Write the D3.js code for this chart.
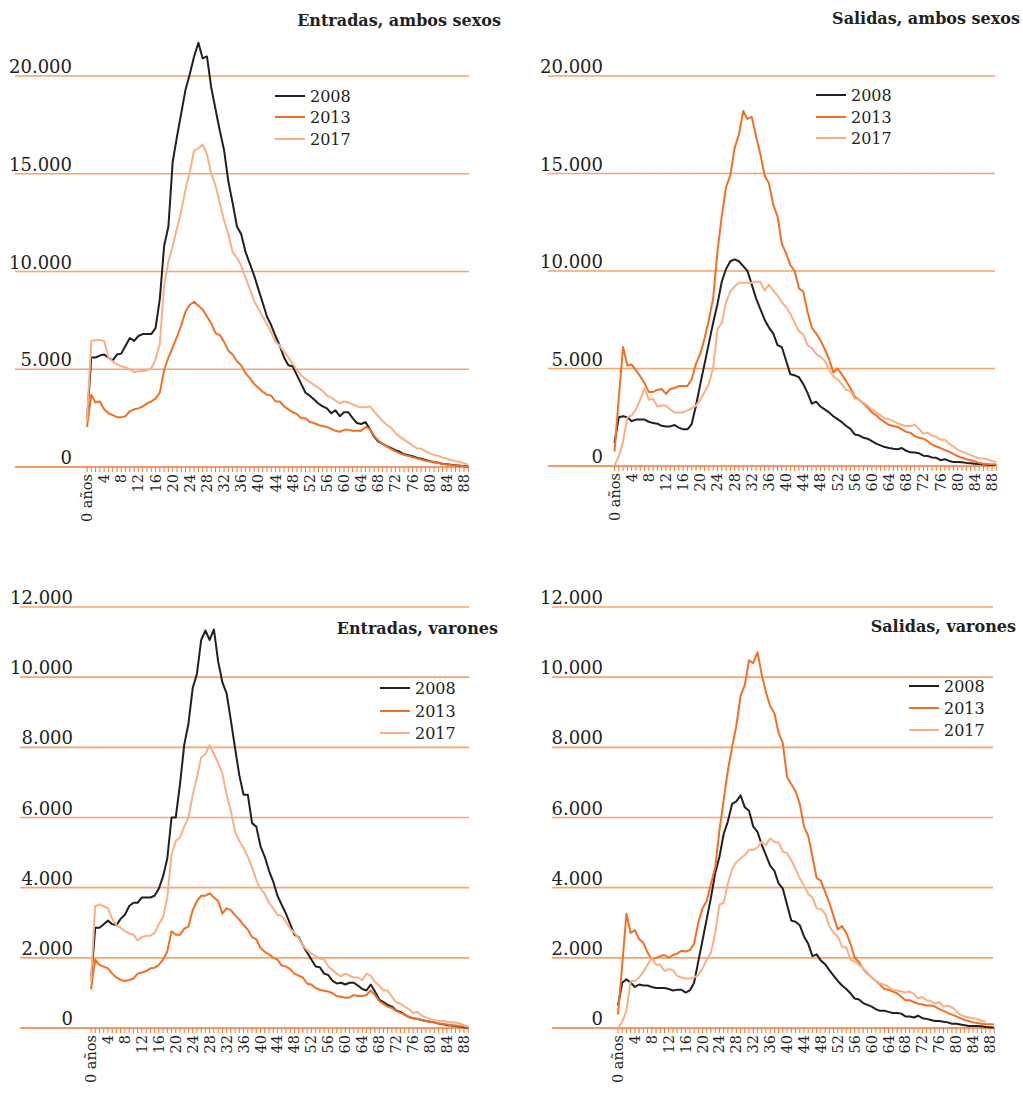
<!DOCTYPE html>
<html>
<head>
<meta charset="utf-8">
<script src="https://cdn.jsdelivr.net/npm/d3@7"></script>
<style>
  body { margin: 0; background: #fff; }
  svg { display: block; }
</style>
</head>
<body>
<svg id="chart"></svg>
<script>
// ages 0..89
const ages = d3.range(0, 90);
const years = ["2008", "2013", "2017"];
const yTicksBoth = [0, 5000, 10000, 15000, 20000];
const yTicksMen = [0, 2000, 4000, 6000, 8000, 10000, 12000];

// Entradas, ambos sexos
const entAmbos2008 = [2400,5600,5600,5700,5750,5600,5450,5750,5800,6200,6600,6450,6700,6800,6800,6800,7100,8600,11300,12300,15600,16900,18100,19300,20100,21000,21700,20900,21000,19400,18300,17200,16200,14600,13500,12300,11900,11000,10400,9800,9100,8400,7700,7250,6700,6200,5600,5200,5150,4700,4250,3800,3650,3450,3250,3100,3000,2750,2900,2600,2800,2800,2500,2250,2200,2300,1950,1550,1300,1180,1070,970,860,780,650,600,550,480,420,360,300,260,220,170,140,110,90,70,50,30];
const entAmbos2013 = [2050,3700,3300,3350,2950,2750,2650,2550,2550,2600,2850,2950,3000,3100,3250,3350,3500,3800,4950,5600,6100,6650,7250,7950,8300,8450,8250,8050,7700,7350,6850,6750,6400,5950,5750,5400,5200,4800,4550,4250,4050,3850,3700,3650,3350,3350,3100,2950,2800,2700,2500,2500,2300,2250,2150,2100,2050,1950,1850,1800,1900,1900,1850,1850,1850,2050,1950,1600,1350,1180,1040,920,800,700,620,560,500,440,380,320,280,240,200,160,130,100,80,60,40,30];
const entAmbos2017 = [2400,6450,6500,6500,6450,5600,5400,5250,5150,5100,5000,4850,4900,4900,4950,5050,5500,6300,9300,10500,11300,12200,13100,14200,15100,16200,16300,16500,16000,15000,14400,13500,12600,11900,11000,10700,10300,9700,9100,8500,8100,7700,7300,6900,6400,6200,5900,5600,5300,4950,4700,4500,4350,4200,4050,3900,3650,3550,3400,3250,3350,3300,3200,3100,3050,3050,3100,2850,2600,2350,2150,2000,1750,1550,1400,1250,1100,950,950,800,700,620,560,480,420,350,300,260,200,120];

// Salidas, ambos sexos
const salAmbos2008 = [1180,2500,2550,2500,2300,2380,2380,2380,2270,2200,2170,2060,2030,2030,2100,1970,1880,1880,2150,3100,4200,5250,6300,7350,8300,9450,10100,10500,10600,10500,10250,10000,9300,8600,8050,7500,7100,6800,6200,6100,5400,4700,4650,4550,4200,3750,3200,3300,3050,2900,2750,2550,2400,2250,2050,1900,1620,1570,1450,1400,1270,1150,1060,970,920,880,860,920,780,700,690,650,530,510,440,420,300,350,260,210,210,190,160,140,120,100,90,60,50,50];
const salAmbos2013 = [740,3500,6100,5150,5200,4900,4600,4250,3800,3800,3900,3950,3700,3950,4000,4100,4100,4100,4450,5250,5750,6550,7500,8600,11000,12800,14300,14900,16300,17000,18200,17800,17900,16900,16000,14900,14500,13400,12800,11400,10900,10300,10000,9100,8950,7900,7100,6800,6450,6000,5500,4800,5000,4700,4350,4000,3550,3400,3200,3000,2750,2600,2400,2250,2100,2050,2000,1880,1750,1700,1530,1450,1400,1270,1100,1000,920,830,740,620,510,420,350,300,230,160,120,100,90,80];
const salAmbos2017 = [50,480,1270,2500,2600,2900,3400,4000,3400,3450,3050,3100,3100,2900,2750,2750,2750,2850,2950,3100,3400,3800,4200,5050,7000,7350,8400,8950,9200,9400,9400,9400,9400,9450,9450,9000,9300,9000,8750,8400,8150,7800,7350,6900,6750,6200,6050,5750,5600,5400,4950,4600,4450,4200,3900,3850,3450,3400,3250,3100,2900,2750,2600,2450,2400,2300,2200,2100,2050,2050,2100,1900,1650,1700,1550,1500,1350,1350,1150,1000,830,740,650,560,480,390,390,330,260,210];

// Entradas, varones
const entVar2008 = [1340,2860,2860,2960,3060,2960,2930,3110,3230,3470,3570,3570,3720,3720,3720,3770,3970,4320,4830,6000,6000,6950,8070,8680,9690,10100,11060,11330,11060,11360,10450,9850,9540,8770,7970,7200,6650,6650,5840,5740,5180,4880,4480,4170,3770,3510,3260,2960,2660,2590,2350,2150,1950,1750,1730,1550,1510,1340,1270,1290,1240,1290,1290,1210,1110,1070,1240,1040,810,740,660,610,500,460,380,310,280,260,230,200,180,160,130,110,80,70,60,40,20,10];
const entVar2013 = [1110,1950,1800,1750,1700,1550,1440,1370,1340,1370,1410,1550,1580,1620,1700,1720,1800,1950,2180,2760,2660,2660,2830,2890,3360,3620,3770,3770,3840,3720,3620,3260,3410,3360,3210,3090,2930,2810,2590,2530,2280,2170,2100,2000,1950,1780,1750,1680,1550,1490,1440,1260,1240,1140,1090,1060,1040,990,910,890,860,870,940,910,910,940,1070,940,770,690,610,570,490,430,380,320,280,260,230,200,180,160,130,120,100,80,70,60,40,30];
const entVar2017 = [1340,3470,3520,3470,3410,3110,2930,2860,2760,2690,2660,2500,2590,2630,2630,2710,2960,3160,3720,4930,5330,5430,5740,6000,6650,7150,7710,7810,8060,7810,7560,7250,6650,6190,5590,5330,5130,4880,4580,4220,3970,3820,3570,3410,3230,3190,3030,2830,2710,2560,2350,2220,2120,2050,1980,1950,1750,1650,1550,1470,1550,1490,1440,1440,1360,1550,1490,1310,1210,1070,1070,890,740,690,610,540,430,460,360,300,260,230,210,200,180,160,160,130,80,40];

// Salidas, varones
const salVar2008 = [640,1290,1390,1290,1170,1240,1210,1210,1170,1140,1140,1140,1110,1070,1090,1090,1010,1070,1290,1900,2500,3110,3720,4420,4880,5530,5890,6390,6460,6630,6290,6190,5740,5590,5230,4930,4630,4480,4120,3970,3510,3060,3030,2930,2610,2400,2050,2100,1920,1820,1650,1490,1340,1210,1110,990,840,810,710,660,610,540,490,490,460,430,430,410,330,330,300,350,280,260,230,200,200,180,160,120,120,100,80,60,60,60,50,30,20,10];
const salVar2013 = [380,1800,3260,2710,2790,2530,2430,2150,1950,2000,2050,2080,2000,2080,2120,2200,2180,2220,2400,3010,3410,3620,4120,4580,5630,6500,7350,8010,8620,9470,9780,10480,10400,10710,10080,9570,9170,8970,8410,8110,7150,6950,6750,6390,5740,5480,4880,4270,4200,3870,3570,3190,2810,2910,2710,2400,2000,1880,1680,1550,1440,1340,1240,1110,1090,1040,990,890,790,790,740,690,670,640,640,610,540,490,430,380,330,280,230,200,160,140,120,110,110,100];
const salVar2017 = [0,180,490,1340,1340,1440,1600,1800,2000,1800,1800,1620,1680,1650,1490,1440,1410,1410,1440,1510,1700,1950,2150,2710,3510,3570,4120,4530,4730,4830,4930,5080,5080,5150,5310,5210,5410,5310,5280,5030,4980,4780,4530,4270,4070,3820,3720,3410,3390,3260,2910,2710,2610,2320,2300,1950,1900,1800,1700,1580,1440,1340,1270,1240,1170,1090,1070,1040,1010,1040,970,840,890,790,770,690,740,610,640,590,490,380,330,300,280,260,200,180,null,null];

const colors = { "2008": "#231f20", "2013": "#f07125", "2017": "#f9b084" };
const gridColor = "#f5a571";
const baseColor = "#f07a35";
const serif = "'DejaVu Serif', 'Liberation Serif', serif";

const panels = [
  { title: "Entradas, ambos sexos", titleX: 501, titleY: 26,
    series: [entAmbos2008, entAmbos2013, entAmbos2017], ticks: yTicksBoth,
    xRange: [87, 468.3], yRange: [467, 76], gridX: [15, 469], labelX: 72,
    legendX: 275, legendY: [96, 117, 139] },
  { title: "Salidas, ambos sexos", titleX: 1020, titleY: 24,
    series: [salAmbos2008, salAmbos2013, salAmbos2017], ticks: yTicksBoth,
    xRange: [614.5, 996.3], yRange: [466, 76], gridX: [548, 995], labelX: 603,
    legendX: 816, legendY: [95, 117, 138] },
  { title: "Entradas, varones", titleX: 498, titleY: 634,
    series: [entVar2008, entVar2013, entVar2017], ticks: yTicksMen,
    xRange: [91, 468.2], yRange: [1028, 607], gridX: [20, 469], labelX: 73,
    legendX: 380, legendY: [688, 711, 733] },
  { title: "Salidas, varones", titleX: 1016, titleY: 632,
    series: [salVar2008, salVar2013, salVar2017], ticks: yTicksMen,
    xRange: [618, 994.2], yRange: [1028, 607], gridX: [552, 993], labelX: 603,
    legendX: 909, legendY: [686, 708, 730] }
];

const svg = d3.select("#chart").attr("width", 1023).attr("height", 1095);

panels.forEach(p => {
  const g = svg.append("g");
  const x = d3.scaleLinear().domain([0, 89]).range(p.xRange);
  const y = d3.scaleLinear().domain([0, d3.max(p.ticks)]).range(p.yRange);

  // gridlines
  g.selectAll(".grid").data(p.ticks).enter().append("line")
    .attr("x1", p.gridX[0]).attr("x2", p.gridX[1])
    .attr("y1", d => y(d)).attr("y2", d => y(d))
    .attr("stroke", d => d === 0 ? baseColor : gridColor)
    .attr("stroke-width", 1.6);

  // y labels
  g.selectAll(".ylab").data(p.ticks).enter().append("text")
    .attr("x", p.labelX).attr("y", d => y(d) - 3)
    .attr("text-anchor", "end")
    .attr("font-family", serif).attr("font-size", 18).attr("fill", "#231f20")
    .text(d => d3.format(",")(d).replace(/,/g, "."));

  // x ticks, one per year
  g.selectAll(".xt").data(ages).enter().append("line")
    .attr("x1", d => x(d)).attr("x2", d => x(d))
    .attr("y1", y(0)).attr("y2", y(0) + 5)
    .attr("stroke", baseColor).attr("stroke-width", 1);

  // x labels every 4 years, rotated
  g.selectAll(".xl").data(ages.filter(a => a % 4 === 0)).enter().append("text")
    .attr("transform", d => `translate(${x(d) + 5},${y(0) + 7}) rotate(-90)`)
    .attr("text-anchor", "end")
    .attr("font-family", serif).attr("font-size", 14.5).attr("fill", "#231f20")
    .text(d => d === 0 ? "0 años" : d);

  // lines
  const line = d3.line()
    .defined(d => d != null)
    .x((d, i) => x(ages[i]))
    .y(d => y(d));

  p.series.forEach((s, i) => {
    g.append("path").datum(s)
      .attr("d", line)
      .attr("fill", "none")
      .attr("stroke", colors[years[i]])
      .attr("stroke-width", 2)
      .attr("stroke-linejoin", "round");
  });

  // legend
  years.forEach((yr, i) => {
    g.append("line")
      .attr("x1", p.legendX).attr("x2", p.legendX + 30)
      .attr("y1", p.legendY[i]).attr("y2", p.legendY[i])
      .attr("stroke", colors[yr]).attr("stroke-width", 2);
    g.append("text")
      .attr("x", p.legendX + 35).attr("y", p.legendY[i] + 6)
      .attr("font-family", serif).attr("font-size", 16).attr("fill", "#231f20")
      .text(yr);
  });

  // title
  g.append("text")
    .attr("x", p.titleX).attr("y", p.titleY)
    .attr("text-anchor", "end")
    .attr("font-family", serif).attr("font-size", 16).attr("font-weight", "bold")
    .attr("fill", "#231f20")
    .text(p.title);
});
</script>
</body>
</html>
